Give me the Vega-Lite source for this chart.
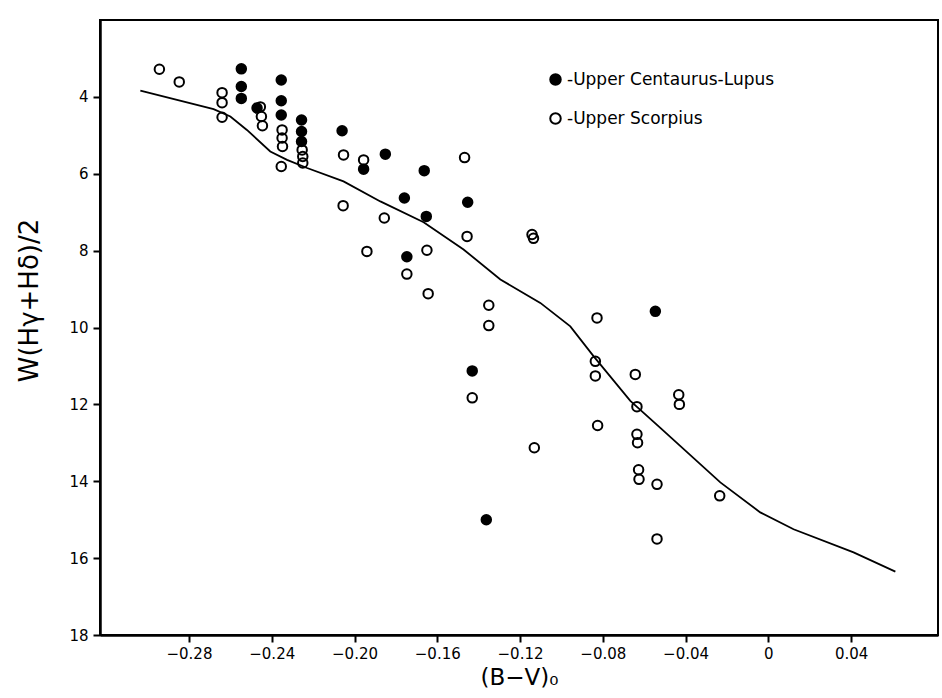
{
  "$schema": "https://vega.github.io/schema/vega-lite/v6.json",
  "width": 838,
  "height": 615,
  "autosize": {"type": "none"},
  "padding": {"left": 100, "top": 20, "right": 4, "bottom": 63},
  "background": "white",
  "config": {
    "view": {"stroke": "black", "strokeWidth": 2},
    "font": "DejaVu Sans",
    "axis": {"grid": false, "domainColor": "black", "domainWidth": 2.5, "tickColor": "black", "tickWidth": 2, "labelColor": "black", "titleColor": "black", "labelFontSize": 15, "titleFontWeight": "normal"}
  },
  "datasets": {
    "curve": [
      {"bv": -0.3035, "w": 3.84}, {"bv": -0.2681, "w": 4.32}, {"bv": -0.26, "w": 4.51}, {"bv": -0.252, "w": 4.86},
      {"bv": -0.2407, "w": 5.42}, {"bv": -0.2326, "w": 5.64}, {"bv": -0.2229, "w": 5.85}, {"bv": -0.2053, "w": 6.2},
      {"bv": -0.1875, "w": 6.72}, {"bv": -0.1666, "w": 7.26}, {"bv": -0.1473, "w": 7.97}, {"bv": -0.1295, "w": 8.75},
      {"bv": -0.1102, "w": 9.36}, {"bv": -0.0957, "w": 9.97}, {"bv": -0.0844, "w": 10.75}, {"bv": -0.0667, "w": 11.91},
      {"bv": -0.0522, "w": 12.61}, {"bv": -0.0232, "w": 14.03}, {"bv": -0.0039, "w": 14.81}, {"bv": 0.0122, "w": 15.25},
      {"bv": 0.0412, "w": 15.85}, {"bv": 0.0614, "w": 16.35}
    ],
    "stars": [
      {"bv": -0.2943, "w": 3.28, "group": "Upper Scorpius"},
      {"bv": -0.2847, "w": 3.61, "group": "Upper Scorpius"},
      {"bv": -0.264, "w": 3.89, "group": "Upper Scorpius"},
      {"bv": -0.264, "w": 4.15, "group": "Upper Scorpius"},
      {"bv": -0.264, "w": 4.53, "group": "Upper Scorpius"},
      {"bv": -0.2455, "w": 4.26, "group": "Upper Scorpius"},
      {"bv": -0.245, "w": 4.51, "group": "Upper Scorpius"},
      {"bv": -0.2445, "w": 4.75, "group": "Upper Scorpius"},
      {"bv": -0.235, "w": 4.86, "group": "Upper Scorpius"},
      {"bv": -0.235, "w": 5.07, "group": "Upper Scorpius"},
      {"bv": -0.2348, "w": 5.29, "group": "Upper Scorpius"},
      {"bv": -0.2354, "w": 5.81, "group": "Upper Scorpius"},
      {"bv": -0.2253, "w": 5.38, "group": "Upper Scorpius"},
      {"bv": -0.225, "w": 5.55, "group": "Upper Scorpius"},
      {"bv": -0.225, "w": 5.72, "group": "Upper Scorpius"},
      {"bv": -0.2053, "w": 5.51, "group": "Upper Scorpius"},
      {"bv": -0.1956, "w": 5.64, "group": "Upper Scorpius"},
      {"bv": -0.2055, "w": 6.83, "group": "Upper Scorpius"},
      {"bv": -0.194, "w": 8.02, "group": "Upper Scorpius"},
      {"bv": -0.1468, "w": 5.58, "group": "Upper Scorpius"},
      {"bv": -0.1856, "w": 7.15, "group": "Upper Scorpius"},
      {"bv": -0.1456, "w": 7.63, "group": "Upper Scorpius"},
      {"bv": -0.1142, "w": 7.58, "group": "Upper Scorpius"},
      {"bv": -0.1135, "w": 7.68, "group": "Upper Scorpius"},
      {"bv": -0.165, "w": 7.99, "group": "Upper Scorpius"},
      {"bv": -0.1747, "w": 8.61, "group": "Upper Scorpius"},
      {"bv": -0.1644, "w": 9.12, "group": "Upper Scorpius"},
      {"bv": -0.1351, "w": 9.42, "group": "Upper Scorpius"},
      {"bv": -0.1351, "w": 9.95, "group": "Upper Scorpius"},
      {"bv": -0.0828, "w": 9.75, "group": "Upper Scorpius"},
      {"bv": -0.1431, "w": 11.83, "group": "Upper Scorpius"},
      {"bv": -0.1131, "w": 13.13, "group": "Upper Scorpius"},
      {"bv": -0.0836, "w": 10.88, "group": "Upper Scorpius"},
      {"bv": -0.0836, "w": 11.26, "group": "Upper Scorpius"},
      {"bv": -0.0643, "w": 11.22, "group": "Upper Scorpius"},
      {"bv": -0.0635, "w": 12.06, "group": "Upper Scorpius"},
      {"bv": -0.0825, "w": 12.55, "group": "Upper Scorpius"},
      {"bv": -0.0635, "w": 12.78, "group": "Upper Scorpius"},
      {"bv": -0.0632, "w": 13.0, "group": "Upper Scorpius"},
      {"bv": -0.0627, "w": 13.7, "group": "Upper Scorpius"},
      {"bv": -0.0625, "w": 13.95, "group": "Upper Scorpius"},
      {"bv": -0.0538, "w": 14.08, "group": "Upper Scorpius"},
      {"bv": -0.0538, "w": 15.5, "group": "Upper Scorpius"},
      {"bv": -0.0433, "w": 11.75, "group": "Upper Scorpius"},
      {"bv": -0.043, "w": 12.0, "group": "Upper Scorpius"},
      {"bv": -0.0235, "w": 14.38, "group": "Upper Scorpius"},
      {"bv": -0.2547, "w": 3.27, "group": "Upper Centaurus-Lupus"},
      {"bv": -0.2547, "w": 3.73, "group": "Upper Centaurus-Lupus"},
      {"bv": -0.2547, "w": 4.04, "group": "Upper Centaurus-Lupus"},
      {"bv": -0.2471, "w": 4.29, "group": "Upper Centaurus-Lupus"},
      {"bv": -0.2354, "w": 3.56, "group": "Upper Centaurus-Lupus"},
      {"bv": -0.2354, "w": 4.1, "group": "Upper Centaurus-Lupus"},
      {"bv": -0.2354, "w": 4.47, "group": "Upper Centaurus-Lupus"},
      {"bv": -0.2256, "w": 4.6, "group": "Upper Centaurus-Lupus"},
      {"bv": -0.2256, "w": 4.9, "group": "Upper Centaurus-Lupus"},
      {"bv": -0.2256, "w": 5.16, "group": "Upper Centaurus-Lupus"},
      {"bv": -0.206, "w": 4.88, "group": "Upper Centaurus-Lupus"},
      {"bv": -0.1956, "w": 5.88, "group": "Upper Centaurus-Lupus"},
      {"bv": -0.1851, "w": 5.49, "group": "Upper Centaurus-Lupus"},
      {"bv": -0.1663, "w": 5.92, "group": "Upper Centaurus-Lupus"},
      {"bv": -0.1759, "w": 6.63, "group": "Upper Centaurus-Lupus"},
      {"bv": -0.1453, "w": 6.74, "group": "Upper Centaurus-Lupus"},
      {"bv": -0.1653, "w": 7.11, "group": "Upper Centaurus-Lupus"},
      {"bv": -0.1747, "w": 8.16, "group": "Upper Centaurus-Lupus"},
      {"bv": -0.0546, "w": 9.58, "group": "Upper Centaurus-Lupus"},
      {"bv": -0.1431, "w": 11.13, "group": "Upper Centaurus-Lupus"},
      {"bv": -0.1363, "w": 15.0, "group": "Upper Centaurus-Lupus"}
    ]
  },
  "encoding": {
    "x": {
      "field": "bv", "type": "quantitative",
      "scale": {"domain": [-0.323, 0.082], "nice": false, "zero": false},
      "axis": {
        "title": "(B−V)₀",
        "values": [-0.28, -0.24, -0.2, -0.16, -0.12, -0.08, -0.04, 0, 0.04],
        "labelExpr": "datum.value == 0 ? '0' : format(datum.value, '.2f')",
        "tickSize": 7, "labelPadding": 4,
        "titleFontSize": 23, "titlePadding": 5
      }
    },
    "y": {
      "field": "w", "type": "quantitative",
      "scale": {"domain": [2, 18], "reverse": true, "nice": false, "zero": false},
      "axis": {
        "title": "W(Hγ+Hδ)/2",
        "values": [4, 6, 8, 10, 12, 14, 16, 18],
        "tickSize": 7, "labelPadding": 5,
        "titleFontSize": 26, "titleX": -58, "titleY": 280
      }
    }
  },
  "layer": [
    {
      "data": {"name": "curve"},
      "mark": {"type": "line", "color": "black", "strokeWidth": 1.8}
    },
    {
      "data": {"name": "stars"},
      "mark": {"type": "point", "shape": "circle", "filled": true, "size": 90, "stroke": "black", "strokeWidth": 2, "opacity": 1},
      "encoding": {
        "fill": {
          "field": "group", "type": "nominal",
          "scale": {"domain": ["Upper Centaurus-Lupus", "Upper Scorpius"], "range": ["black", "transparent"]},
          "legend": {
            "orient": "none", "legendX": 447, "legendY": 51, "title": null,
            "labelExpr": "'-' + datum.label",
            "symbolType": "circle", "symbolSize": 110, "symbolStrokeColor": "black", "symbolStrokeWidth": 2,
            "labelFontSize": 17, "labelColor": "black", "labelOffset": 3, "labelLimit": 0, "rowPadding": 20, "padding": 0
          }
        }
      }
    }
  ]
}
